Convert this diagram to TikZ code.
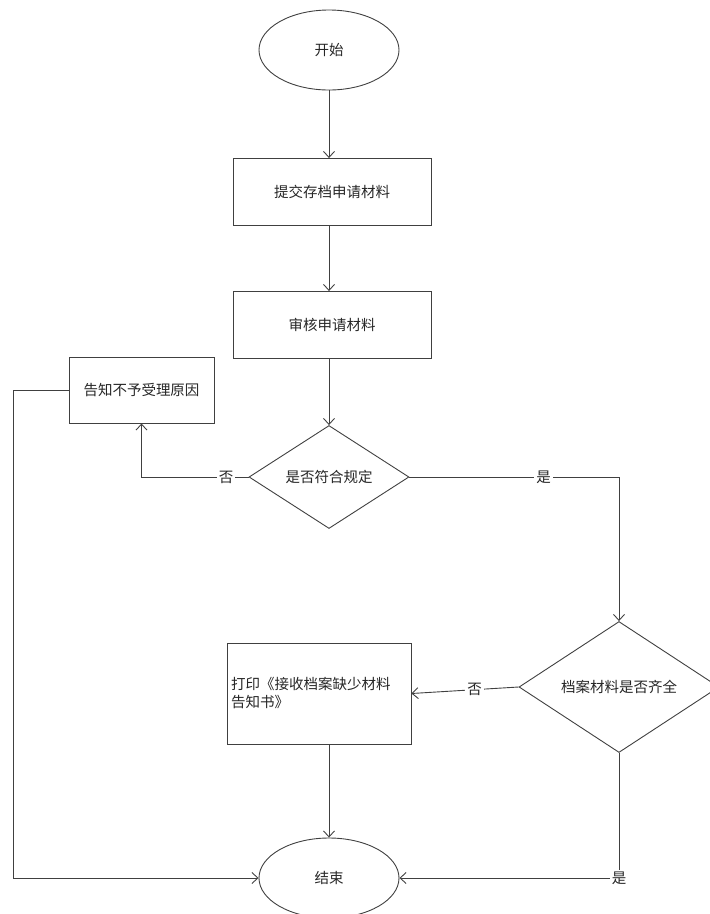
\documentclass[tikz,border=0pt]{standalone}
\usepackage{fontspec}
\setmainfont{Noto Sans CJK SC}
\usetikzlibrary{shapes.geometric,arrows.meta}
\definecolor{ln}{HTML}{404040}
\definecolor{tx}{HTML}{262626}
\begin{document}
\begin{tikzpicture}[x=1pt,y=-1pt,
  base/.style={draw=ln,line width=0.9pt,text=tx,font=\fontsize{14.5pt}{18pt}\selectfont,inner sep=0pt},
  term/.style={base,ellipse,minimum width=140pt,minimum height=80pt},
  proc/.style={base,rectangle,minimum width=198pt,minimum height=67pt},
  dec/.style={base,diamond},
  conn/.style={draw=ln,line width=0.9pt,-{Straight Barb[length=6pt,width=11pt]}},
  lbl/.style={fill=white,text=tx,font=\fontsize{14.5pt}{18pt}\selectfont,inner sep=2pt}]
\useasboundingbox (0,0) rectangle (710,914);
\node[term] (start) at (329,50) {开始};
\node[proc] (b1) at (332,192) {提交存档申请材料};
\node[proc] (b2) at (332,325) {审核申请材料};
\node[base,minimum width=145pt,minimum height=66pt] (b3) at (141.5,390) {告知不予受理原因};
\node[dec,minimum width=160pt,minimum height=103pt] (d1) at (329,477) {是否符合规定};
\node[dec,minimum width=200pt,minimum height=131pt] (d2) at (619,687) {档案材料是否齐全};
\node[base,minimum width=184pt,minimum height=101pt,text width=176pt,align=left,inner sep=4pt] (b4) at (319,693.5) {打印《接收档案缺少材料\\告知书》};
\node[term] (end) at (329,878) {结束};
\coordinate (lc) at (13,390);

\draw[conn] (start.south) -- (start.south |- b1.north);
\draw[conn] (start.south |- b1.south) -- (start.south |- b2.north);
\draw[conn] (start.south |- b2.south) -- (d1.north);
\draw[conn] (d1.west) -| node[lbl,pos=0.105] {否} (b3.south);
\draw[conn] (d1.east) -| node[lbl,pos=0.32] {是} (d2.north);
\draw[conn] (d2.west) -- node[lbl,pos=0.41] {否} (b4.east);
\draw[conn] (end.north |- b4.south) -- (end.north);
\draw[conn] (d2.south) |- node[lbl,pos=0.5] {是} (end.east);
\draw[conn] (b3.west) -- (lc) |- (end.west);
\end{tikzpicture}
\end{document}
